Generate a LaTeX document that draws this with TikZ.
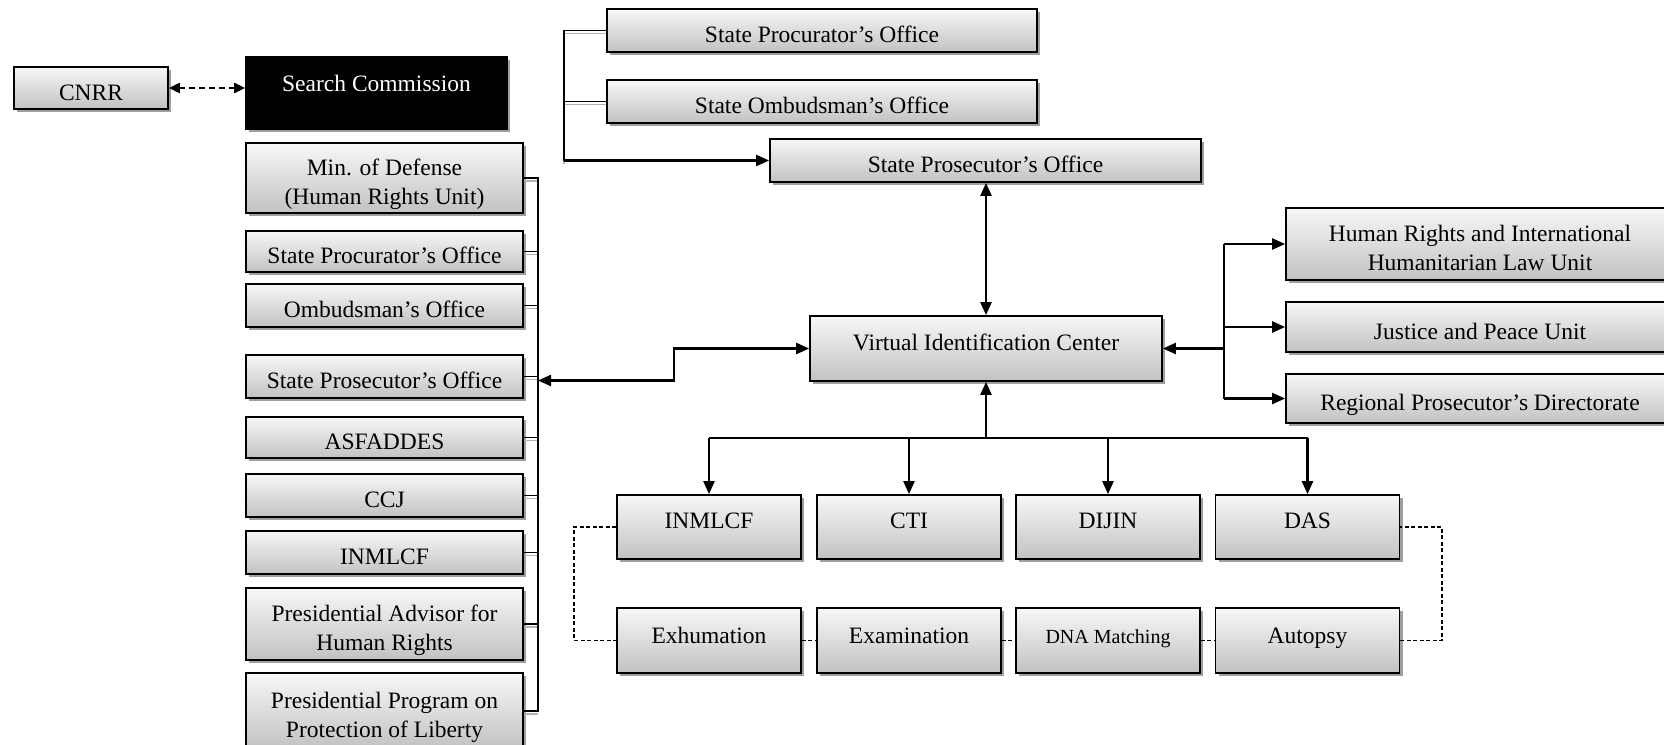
\documentclass[tikz,border=0pt]{standalone}
\usepackage{fontspec}
\setmainfont{Liberation Serif}
\usetikzlibrary{arrows.meta,shadows}
\tikzset{
  >={Triangle[length=13pt,width=11pt]},
  boxbase/.style={draw=black, line width=1.7pt, top color=gray!6, bottom color=gray!48,
    inner sep=0pt, align=center, font=\fontsize{23.5}{29}\selectfont,
    drop shadow={shadow xshift=3pt, shadow yshift=-3pt, fill=gray!75, opacity=1}},
  box/.style={boxbase, text height=24pt, text depth=0pt},
  boxtwo/.style={boxbase, text height=53pt, text depth=0pt},
  darkbox/.style={draw=black, line width=1.7pt, fill=black, text=white,
    inner sep=0pt, align=center, font=\fontsize{23.5}{29}\selectfont,
    drop shadow={shadow xshift=3pt, shadow yshift=-3pt, fill=gray!75, opacity=1}},
  conn/.style={draw=black, line width=2.3pt},
  stub/.style={draw=black, line width=1.8pt,
    preaction={draw=gray!60, line width=1.6pt, transform canvas={yshift=-3pt}}},
  dsh/.style={draw=black, line width=1.4pt, dash pattern=on 4pt off 2.5pt},
}
\begin{document}
\begin{tikzpicture}[x=1pt,y=-1pt]
\useasboundingbox (0,0) rectangle (1664,744);
\clip (0,0) rectangle (1664,744);
\fill[white] (0,0) rectangle (1664,744);

% left group
\node[box, minimum width=154pt, minimum height=42pt] (cnrr) at (91,88) {CNRR};
\node[darkbox, minimum width=261pt, minimum height=72pt, text height=16pt, text depth=20pt] (sc) at (376.5,93) {Search Commission};

\node[boxtwo, minimum width=277pt, minimum height=70pt] (md) at (384.5,178) {Min. of Defense\\(Human Rights Unit)};
\node[box, minimum width=277pt, minimum height=41pt] (lproc) at (384.5,251.5) {State Procurator’s Office};
\node[box, minimum width=277pt, minimum height=43pt] (lomb) at (384.5,305.5) {Ombudsman’s Office};
\node[box, minimum width=277pt, minimum height=43pt] (lpros) at (384.5,376.5) {State Prosecutor’s Office};
\node[box, minimum width=277pt, minimum height=41pt] (asf) at (384.5,437.5) {ASFADDES};
\node[box, minimum width=277pt, minimum height=43pt] (ccj) at (384.5,495.5) {CCJ};
\node[box, minimum width=277pt, minimum height=43pt] (linm) at (384.5,552.5) {INMLCF};
\node[boxtwo, minimum width=277pt, minimum height=72pt] (padv) at (384.5,624) {Presidential Advisor for\\Human Rights};
\node[boxtwo, minimum width=277pt, minimum height=76pt] (pprog) at (384.5,711) {Presidential Program on\\Protection of Liberty};

% top group
\node[box, minimum width=430pt, minimum height=43pt] (tproc) at (822,30.5) {State Procurator’s Office};
\node[box, minimum width=430pt, minimum height=43pt] (tomb) at (822,101.5) {State Ombudsman’s Office};
\node[box, minimum width=431pt, minimum height=43pt] (tpros) at (985.5,160.5) {State Prosecutor’s Office};

% centre
\node[boxbase, minimum width=352pt, minimum height=65pt, text height=16pt, text depth=12pt] (vic) at (986,348.5) {Virtual Identification Center};

% right group
\node[boxtwo, minimum width=388pt, minimum height=72pt] (hr) at (1480,244) {Human Rights and International\\Humanitarian Law Unit};
\node[box, minimum width=388pt, minimum height=50pt] (jp) at (1480,327) {Justice and Peace Unit};
\node[box, minimum width=388pt, minimum height=49pt] (rp) at (1480,398.5) {Regional Prosecutor’s Directorate};

% bottom rows
\tikzset{toprow/.style={boxbase, minimum width=184pt, minimum height=64pt, text height=16pt, text depth=14pt},
         botrow/.style={boxbase, minimum width=184pt, minimum height=65pt, text height=16pt, text depth=11pt}}
\node[toprow] (inm) at (709,527) {INMLCF};
\node[toprow] (cti) at (909,527) {CTI};
\node[toprow] (dij) at (1108,527) {DIJIN};
\node[toprow] (das) at (1307.5,527) {DAS};
\node[botrow] (exh) at (709,640.5) {Exhumation};
\node[botrow] (exa) at (909,640.5) {Examination};
\node[botrow, font=\fontsize{20}{24}\selectfont] (dna) at (1108,640.5) {DNA Matching};
\node[botrow] (aut) at (1307.5,640.5) {Autopsy};

% helper coordinates
\coordinate (busx) at (538,0);
\coordinate (brk) at (564,0);
\coordinate (rb) at (1224,0);
\coordinate (bb) at (0,438);
\coordinate (dl) at (574,0);
\coordinate (dr) at (1442,0);

% CNRR <-> Search Commission
\draw[line width=2pt, dash pattern=on 6pt off 4pt, {Triangle[length=11pt,width=10pt]}-{Triangle[length=11pt,width=10pt]}]
  (cnrr.east) -- (cnrr.east -| sc.west);

% left bus
\foreach \n in {md,lproc,lomb,lpros,asf,ccj,linm,padv,pprog}
  \draw[stub] (\n.east) -- (\n.east -| busx);
\draw[conn] ([yshift=1pt]md.east -| busx) -- ([yshift=-1pt]pprog.east -| busx);

% left bus <-> VIC
\draw[conn, <->] ([yshift=-4pt]lpros.east -| busx) -- ++(136,0) |- (vic.west);

% top bracket
\draw[stub] (tomb.west) -- (tomb.west -| brk);
\draw[stub] (tproc.west) -- (tproc.west -| brk) -- (tpros.west -| brk);
\draw[conn, ->] (tpros.west -| brk) -- (tpros.west);

% VIC <-> State Prosecutor
\draw[conn, <->] (vic.north) -- (vic.north |- tpros.south);

% right branch
\draw[conn] (hr.west -| rb) -- (rp.west -| rb);
\foreach \n in {hr,jp,rp}
  \draw[conn, ->] (\n.west -| rb) -- (\n.west);
\draw[conn, ->] (vic.east -| rb) -- (vic.east);

% bottom branch
\draw[conn] (inm.north |- bb) -- (das.north |- bb);
\foreach \n in {inm,cti,dij,das}
  \draw[conn, ->] (\n.north |- bb) -- (\n.north);
\draw[conn, ->] (vic.south |- bb) -- (vic.south);

% dashed loop
\draw[dsh] (inm.west) -- (inm.west -| dl) |- (exh.west);
\draw[dsh] (exh.east) -- (exa.west);
\draw[dsh] (exa.east) -- (dna.west);
\draw[dsh] (dna.east) -- (aut.west);
\draw[dsh] (aut.east) -- (aut.east -| dr) |- (das.east);
\end{tikzpicture}
\end{document}
